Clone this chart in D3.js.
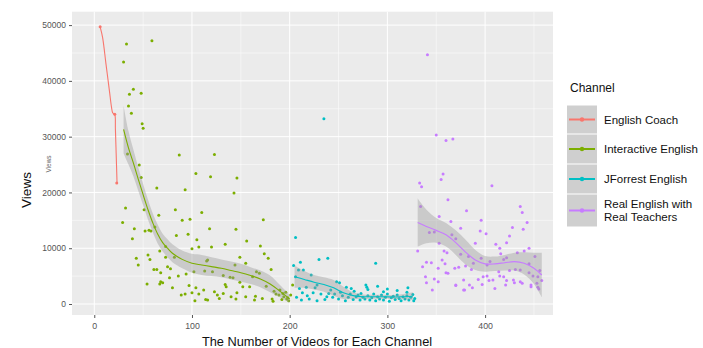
<!DOCTYPE html>
<html><head><meta charset="utf-8">
<script src="https://cdn.jsdelivr.net/npm/d3@7"></script>
<style>body{margin:0;background:#fff;} svg{display:block;font-family:"Liberation Sans",Arial,Helvetica,sans-serif;}</style>
</head><body><svg id="c" width="703" height="348"></svg>
<script>
// ---- data ----
const channels = ["English Coach","Interactive English","JForrest English","Real English with Real Teachers"];
const colors = ["#F8766D","#7CAE00","#00BFC4","#C77CFF"];
const xTicks = [0,100,200,300,400];
const yTicks = [0,10000,20000,30000,40000,50000];

const coachPts = [[6,49700],[21,34000],[23,21700]];
const interactivePts = [[33,46600],[59,47200],[30,43400],[40,38500],[36,37600],[48,37800],[35,35500],[38,34200],[49,32300],[50,31500],[34,26900],[87,26700],[46,24900],[48,22700],[64,20800],[93,20500],[104,23400],[123,26800],[119,22800],[146,22600],[143,19900],[32,17200],[51,16900],[83,16900],[110,16400],[66,15900],[29,14600],[90,15000],[98,15200],[173,15100],[41,13500],[52,13100],[56,13200],[58,13100],[118,13500],[145,13400],[62,13800],[84,12300],[96,12500],[39,11700],[105,11500],[156,11300],[73,10300],[107,10200],[120,10200],[134,10700],[100,9900],[170,10400],[67,9500],[174,9000],[55,8800],[43,8200],[57,8000],[73,8400],[82,8400],[149,8400],[178,8200],[116,7900],[155,7300],[45,7000],[61,6200],[64,6200],[75,6700],[78,6300],[94,5400],[68,5600],[102,5800],[113,5900],[121,5800],[132,5100],[139,4800],[142,4700],[77,4700],[86,5000],[68,4000],[70,3800],[67,3600],[54,3600],[80,2900],[97,3300],[104,2900],[100,2000],[107,1800],[112,2500],[114,800],[116,700],[89,1600],[93,1800],[123,2200],[126,1600],[128,1000],[132,1900],[134,3500],[135,3100],[140,1300],[146,2000],[152,3100],[149,3900],[155,1300],[159,3100],[162,4900],[165,1400],[172,1000],[176,3200],[182,900],[184,2300],[190,2500],[193,1900],[194,1300],[197,900],[199,600],[201,1600],[203,3400],[189,1600],[192,800],[181,6200],[144,7000],[166,5800],[169,5500],[115,7700],[196,2100],[198,1100],[186,1800],[103,600],[145,900],[164,700],[183,500]];
const jforrestPts = [[206,11900],[204,6900],[209,6100],[214,6100],[211,7500],[230,8000],[239,8200],[222,5200],[206,4900],[235,33200],[228,3400],[248,4000],[288,7300],[251,3800],[258,3000],[263,2800],[278,3400],[279,3000],[280,2600],[290,3200],[300,2700],[321,2900],[320,2100],[273,1900],[210,2800],[217,3000],[213,2000],[218,1500],[224,2000],[226,2900],[232,1800],[238,1300],[242,2500],[244,1200],[246,1800],[250,900],[254,1500],[257,600],[260,1200],[262,1800],[265,800],[268,1300],[270,1600],[272,700],[275,1200],[277,900],[280,1500],[282,700],[284,1100],[286,1800],[288,600],[290,1300],[292,900],[294,1600],[296,700],[298,1200],[300,1800],[302,500],[304,1100],[306,1400],[308,800],[310,1600],[312,1000],[314,600],[316,1300],[318,900],[320,1500],[322,700],[324,1200],[326,1700],[327,600],[328,1000],[207,1200],[212,700],[220,900],[228,600],[236,800],[240,1900],[252,2100],[266,2300],[296,2200],[310,2400]];
const realPts = [[341,44700],[350,30300],[360,29300],[367,29600],[357,23300],[355,22300],[333,21700],[335,21000],[362,18700],[381,16700],[334,17500],[353,15700],[365,14800],[375,13600],[343,12800],[348,12900],[370,11700],[353,10900],[331,9500],[358,9500],[340,7500],[345,7400],[336,6700],[356,7900],[359,7200],[369,6400],[360,5600],[339,4900],[348,4500],[352,4000],[340,3800],[346,2500],[370,3300],[379,2500],[407,21200],[436,17500],[438,16400],[396,15000],[443,14600],[395,13100],[428,13700],[439,13400],[401,12600],[425,12200],[422,11000],[390,10900],[411,10700],[415,10000],[433,9200],[440,9500],[383,8500],[396,8200],[422,8300],[451,8500],[373,6600],[380,6800],[402,7000],[414,5800],[425,6000],[431,6200],[436,6100],[445,5600],[449,5000],[454,4900],[456,6000],[458,4200],[453,3700],[447,3400],[454,3000],[362,5500],[386,6200],[393,4400],[398,4900],[402,5000],[404,4200],[408,4300],[415,5000],[419,4900],[422,4200],[429,4300],[436,4000],[378,4300],[384,3400],[370,3400],[387,2900],[397,3500],[410,2800],[421,3400],[430,3800],[438,3700],[447,3100],[378,2500],[455,2700],[361,9200],[375,8900],[388,7300],[405,7600],[419,8000],[445,10000],[416,9000],[366,12400],[352,6400],[445,7200]];

// smooth fits: [x, fit, half-width of confidence band]
const coachFit = [[6,49700,0],[8.5,47800,0],[12,43000,0],[15.5,38200,0],[17.7,35200,0],[18.8,34300,0],[20,34100,0],[21.2,33800,0],[21.6,31500,0],[22.4,27000,0],[23.3,21700,0]];
const interactiveFit = [[30,31300,4300],[35,28000,3000],[40,25300,2400],[45,22400,2100],[50,19600,1900],[55,16900,1800],[60,14500,1700],[65,12500,1700],[70,11000,1600],[75,10000,1600],[80,9100,1600],[85,8500,1600],[90,8000,1600],[100,7300,1700],[110,7000,1800],[120,6700,1700],[130,6400,1600],[140,6000,1600],[150,5600,1600],[160,5100,1500],[170,4500,1500],[180,3600,1500],[190,2300,1100],[200,900,700]];
const jforrestFit = [[205,4900,2000],[215,4400,1500],[225,3900,1300],[235,3500,1300],[245,2900,1400],[255,2000,1100],[265,1500,600],[275,1300,400],[285,1300,350],[295,1300,350],[305,1250,350],[315,1300,450],[326,1400,700]];
const realFit = [[331,14600,4300],[340,13900,3000],[350,13200,2200],[360,12400,2100],[370,11000,2200],[380,9300,2200],[390,7900,1800],[400,7200,1400],[410,7200,1300],[420,7400,1400],[430,7600,1600],[440,7300,2000],[450,6400,2800],[458,5200,4000]];

// ---- layout ----
const svg = d3.select("#c");
const L = 72, R = 553, T = 11.7, B = 315;
const x = d3.scaleLinear().domain([-22.8, 469.5]).range([L, R]);
const y = d3.scaleLinear().domain([-1972, 52403]).range([B, T]);

svg.append("rect").attr("x", L).attr("y", T).attr("width", R - L).attr("height", B - T).attr("fill", "#EBEBEB");

const g = svg.append("g");
// minor grid
const xMinor = [-50,50,150,250,350,450].filter(v => x(v) > L && x(v) < R);
const yMinor = [5000,15000,25000,35000,45000];
g.selectAll(".xm").data(xMinor).enter().append("line")
  .attr("x1", d => x(d)).attr("x2", d => x(d)).attr("y1", T).attr("y2", B)
  .attr("stroke", "#fff").attr("stroke-width", 0.5);
g.selectAll(".ym").data(yMinor).enter().append("line")
  .attr("y1", d => y(d)).attr("y2", d => y(d)).attr("x1", L).attr("x2", R)
  .attr("stroke", "#fff").attr("stroke-width", 0.5);
g.selectAll(".xM").data(xTicks).enter().append("line")
  .attr("x1", d => x(d)).attr("x2", d => x(d)).attr("y1", T).attr("y2", B)
  .attr("stroke", "#fff").attr("stroke-width", 1);
g.selectAll(".yM").data(yTicks).enter().append("line")
  .attr("y1", d => y(d)).attr("y2", d => y(d)).attr("x1", L).attr("x2", R)
  .attr("stroke", "#fff").attr("stroke-width", 1);

// points
const ptSets = [coachPts, interactivePts, jforrestPts, realPts];
ptSets.forEach((pts, i) => {
  svg.append("g").selectAll("circle").data(pts).enter().append("circle")
    .attr("cx", d => x(d[0])).attr("cy", d => y(d[1])).attr("r", 1.5)
    .attr("fill", colors[i]);
});

// smooths
const fits = [coachFit, interactiveFit, jforrestFit, realFit];
const area = d3.area().x(d => x(d[0])).y0(d => y(d[1] - d[2])).y1(d => y(d[1] + d[2])).curve(d3.curveCatmullRom);
const line = d3.line().x(d => x(d[0])).y(d => y(d[1])).curve(d3.curveCatmullRom);
fits.forEach((f, i) => {
  if (f.some(d => d[2] > 0)) {
    svg.append("path").attr("d", area(f)).attr("fill", "#999999").attr("fill-opacity", 0.4);
  }
  svg.append("path").attr("d", line(f)).attr("fill", "none").attr("stroke", colors[i]).attr("stroke-width", 1.1);
});

// axes
const xAxis = d3.axisBottom(x).tickValues(xTicks).tickSize(3).tickPadding(5).tickFormat(d3.format("d"));
const xg = svg.append("g").attr("transform", `translate(0,${B})`).call(xAxis);
xg.select(".domain").remove();
xg.selectAll("line").attr("stroke", "#555");
xg.selectAll("text").attr("fill", "#555").style("font-size", "8.8px").style("font-family", "Liberation Sans, Arial, sans-serif");

const yAxis = d3.axisLeft(y).tickValues(yTicks).tickSize(3).tickPadding(3).tickFormat(d3.format("d"));
const yg = svg.append("g").attr("transform", `translate(${L},0)`).call(yAxis);
yg.select(".domain").remove();
yg.selectAll("line").attr("stroke", "#555");
yg.selectAll("text").attr("fill", "#555").style("font-size", "8.5px").style("font-family", "Liberation Sans, Arial, sans-serif");

// titles
svg.append("text").attr("x", 317).attr("y", 345.5).attr("text-anchor", "middle")
  .style("font-size", "12.8px").attr("fill", "#111").text("The Number of Videos for Each Channel");
svg.append("text").attr("transform", "translate(26,190) rotate(-90)").attr("text-anchor", "middle").attr("dominant-baseline", "central")
  .style("font-size", "13.5px").attr("fill", "#111").text("Views");
svg.append("text").attr("transform", "translate(48.3,164) rotate(-90)").attr("text-anchor", "middle").attr("dominant-baseline", "central")
  .style("font-size", "6.5px").attr("fill", "#666").text("Views");

// legend
const lg = svg.append("g");
lg.append("text").attr("x", 570).attr("y", 88).attr("dominant-baseline", "central").style("font-size", "12px").attr("fill", "#111").text("Channel");
const keys = [[105,134],[134,164],[164,194],[194,227]];
const labelLines = [["English Coach"],["Interactive English"],["JForrest English"],["Real English with","Real Teachers"]];
keys.forEach((k, i) => {
  lg.append("rect").attr("x", 567).attr("y", k[0] + 0.5).attr("width", 30).attr("height", k[1] - k[0] - 1).attr("fill", "#CFCFCF");
  const cy = (k[0] + k[1]) / 2;
  lg.append("line").attr("x1", 569).attr("x2", 595).attr("y1", cy).attr("y2", cy).attr("stroke", colors[i]).attr("stroke-width", 2);
  lg.append("circle").attr("cx", 582).attr("cy", cy).attr("r", 2.2).attr("fill", colors[i]);
  const lines = labelLines[i];
  lines.forEach((t, j) => {
    lg.append("text").attr("x", 604).attr("y", cy + (j - (lines.length - 1) / 2) * 13.5).attr("dominant-baseline", "central")
      .style("font-size", "11.5px").attr("fill", "#111").text(t);
  });
});
</script></body></html>
